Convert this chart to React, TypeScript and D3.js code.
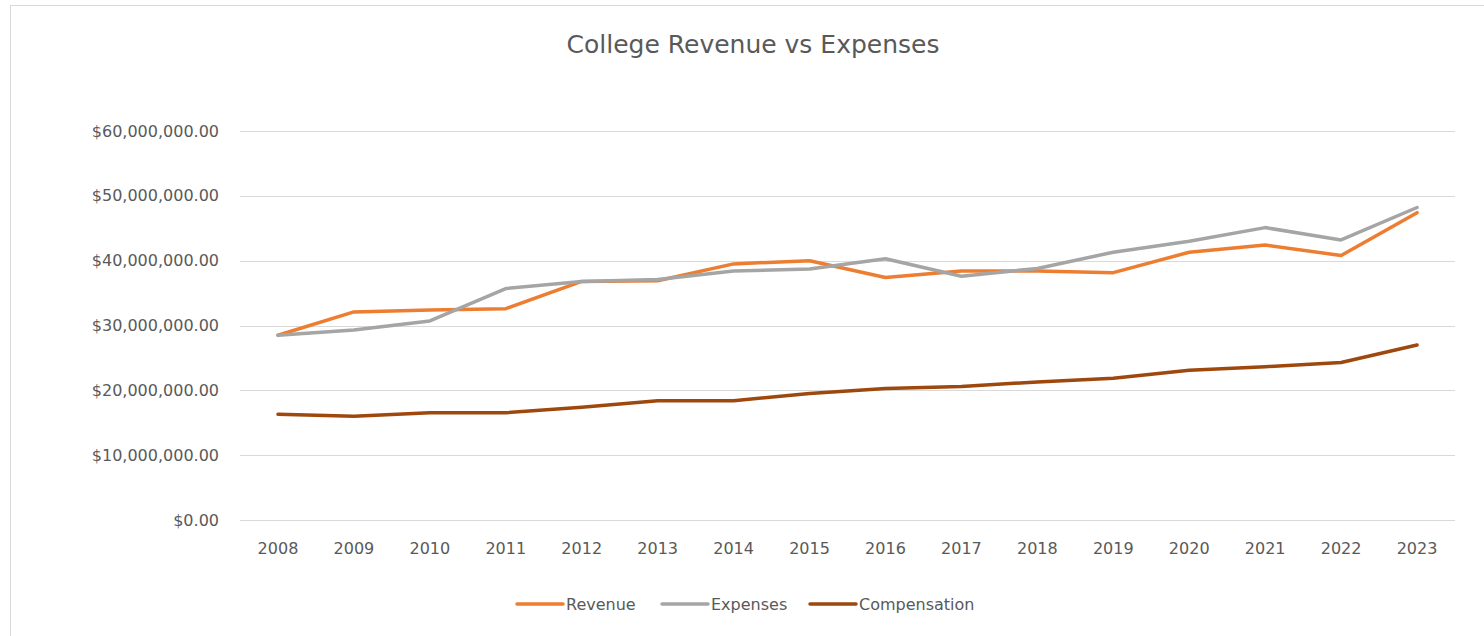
import { useEffect, useRef } from "react"
import * as d3 from "d3"

const years = ["2008", "2009", "2010", "2011", "2012", "2013", "2014", "2015", "2016", "2017", "2018", "2019", "2020", "2021", "2022", "2023"]
const revenue = [28.5, 32.1, 32.4, 32.6, 36.8, 36.9, 39.5, 40.0, 37.4, 38.4, 38.4, 38.15, 41.3, 42.4, 40.8, 47.4].map((v) => v * 1e6)
const expenses = [28.5, 29.3, 30.7, 35.7, 36.8, 37.1, 38.4, 38.7, 40.3, 37.6, 38.8, 41.3, 43.0, 45.1, 43.2, 48.2].map((v) => v * 1e6)
const compensation = [16.3, 16.0, 16.55, 16.55, 17.4, 18.4, 18.4, 19.5, 20.3, 20.6, 21.3, 21.85, 23.1, 23.65, 24.3, 27.0].map((v) => v * 1e6)
const yTicks = [0, 10e6, 20e6, 30e6, 40e6, 50e6, 60e6]

const series = [
  { name: "Revenue", values: revenue, color: "#ED7D31" },
  { name: "Expenses", values: expenses, color: "#A5A5A5" },
  { name: "Compensation", values: compensation, color: "#9E480E" },
]

const W = 1484
const H = 636
const PLOT = { left: 240, right: 1455, top: 131, bottom: 520 }
const FONT = "'DejaVu Sans', sans-serif"
const TEXT = "#595959"

export default function App() {
  const svgRef = useRef<SVGSVGElement>(null)

  useEffect(() => {
    if (!svgRef.current) return
    const svg = d3.select(svgRef.current)
    svg.selectAll("*").remove()

    svg.append("rect").attr("width", W).attr("height", H).attr("fill", "#fff")

    // chart frame
    svg.append("rect")
      .attr("x", 10.5).attr("y", 5.5).attr("width", W + 10).attr("height", H + 10)
      .attr("fill", "none").attr("stroke", "#D9D9D9")

    svg.append("text")
      .attr("x", 753).attr("y", 53)
      .attr("text-anchor", "middle")
      .attr("font-family", FONT).attr("font-size", "25px").attr("fill", TEXT)
      .text("College Revenue vs Expenses")

    const x = d3.scalePoint<string>().domain(years).range([PLOT.left, PLOT.right]).padding(0.5)
    const y = d3.scaleLinear().domain([0, 60e6]).range([PLOT.bottom, PLOT.top])

    // gridlines
    svg.append("g").selectAll("line").data(yTicks).join("line")
      .attr("x1", PLOT.left).attr("x2", PLOT.right)
      .attr("y1", (d) => Math.round(y(d)) + 0.5).attr("y2", (d) => Math.round(y(d)) + 0.5)
      .attr("stroke", "#D9D9D9").attr("stroke-width", 1)

    const fmt = d3.format("$,.2f")
    svg.append("g").selectAll("text").data(yTicks).join("text")
      .attr("x", 219).attr("y", (d) => y(d) + 5.5)
      .attr("text-anchor", "end")
      .attr("font-family", FONT).attr("font-size", "16px").attr("fill", TEXT)
      .text((d) => fmt(d))

    svg.append("g").selectAll("text").data(years).join("text")
      .attr("x", (d) => x(d)!).attr("y", 554)
      .attr("text-anchor", "middle")
      .attr("font-family", FONT).attr("font-size", "16px").attr("fill", TEXT)
      .text((d) => d)

    const line = d3.line<number>()
      .x((_, i) => x(years[i])!)
      .y((d) => y(d))

    series.forEach((s) => {
      svg.append("path")
        .datum(s.values)
        .attr("fill", "none")
        .attr("stroke", s.color)
        .attr("stroke-width", 3.5)
        .attr("stroke-linejoin", "round")
        .attr("stroke-linecap", "round")
        .attr("d", line)
    })

    // legend
    const legendX = [517, 662, 810]
    series.forEach((s, i) => {
      const g = svg.append("g").attr("transform", `translate(${legendX[i]},604)`)
      g.append("line").attr("x1", 0).attr("x2", 46).attr("y1", 0).attr("y2", 0)
        .attr("stroke", s.color).attr("stroke-width", 3.5).attr("stroke-linecap", "round")
      g.append("text").attr("x", 49).attr("y", 5.5)
        .attr("font-family", FONT).attr("font-size", "16px").attr("fill", TEXT)
        .text(s.name)
    })
  }, [])

  return (
    <div style={{ position: "absolute", left: 0, top: 0 }}>
      <svg ref={svgRef} width={W} height={H} style={{ display: "block" }} />
    </div>
  )
}
